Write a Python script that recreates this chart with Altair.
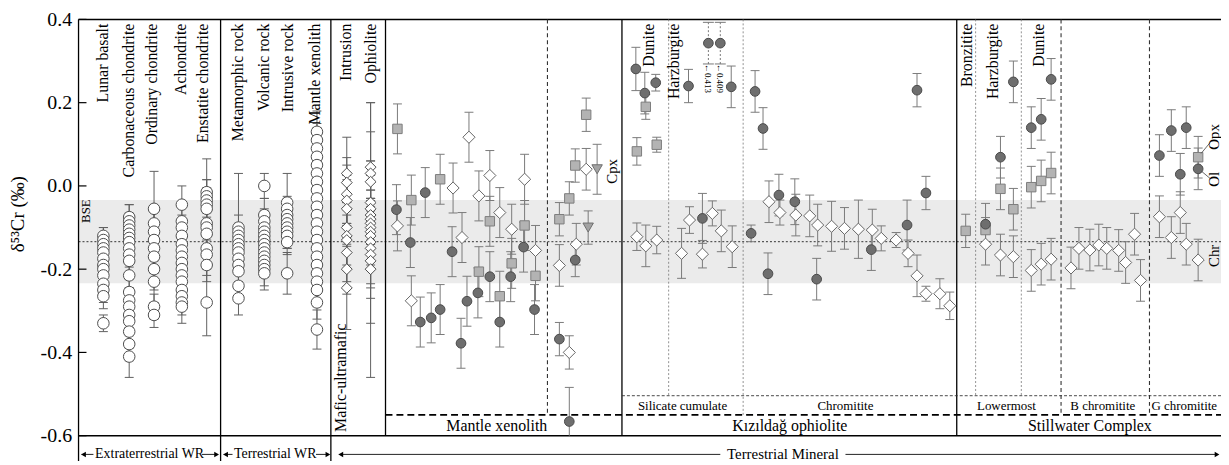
import altair as alt
import pandas as pd

FONT = "Liberation Serif"

# ---------------- reference values ----------------
Y_TICKS = [-0.6, -0.4, -0.2, 0.0, 0.2, 0.4]
BSE_MEAN = -0.134
BSE_2SD = 0.100

# ---------------- whole-rock data (open circles / open diamonds) ----------------
wr_circle_names = ["Lunar basalt", "Carbonaceous chondrite", "Ordinary chondrite", "Achondrite",
                   "Enstatite chondrite", "Metamorphic rock", "Volcanic rock", "Intrusive rock",
                   "Mantle xenolith"]
wr_circle_pos = [2.5, 5.1, 7.6, 10.4, 12.9, 16.1, 18.7, 21.0, 24.0]

lunar_basalt = [-0.12, -0.13, -0.14, -0.15, -0.16, -0.175, -0.19, -0.20, -0.215, -0.235, -0.25, -0.265, -0.33]
lunar_basalt_err = [0.02, 0.03, 0.02, 0.03, 0.02, 0.03, 0.02, 0.03, 0.02, 0.03, 0.03, 0.03, 0.02]
carbonaceous = [-0.075, -0.085, -0.095, -0.105, -0.115, -0.125, -0.135, -0.15, -0.165, -0.18, -0.215,
                -0.255, -0.275, -0.29, -0.31, -0.325, -0.35, -0.38, -0.41]
carbonaceous_err = [0.03, 0.04, 0.03, 0.03, 0.04, 0.03, 0.04, 0.03, 0.03, 0.04, 0.03, 0.03, 0.03, 0.04,
                    0.03, 0.03, 0.04, 0.04, 0.05]
ordinary = [-0.055, -0.09, -0.11, -0.13, -0.15, -0.17, -0.2, -0.23, -0.29, -0.31]
ordinary_err = [0.09, 0.04, 0.05, 0.04, 0.05, 0.04, 0.05, 0.05, 0.03, 0.03]
achondrite = [-0.045, -0.085, -0.1, -0.12, -0.14, -0.155, -0.17, -0.185, -0.2, -0.215, -0.23, -0.25,
              -0.265, -0.28, -0.29]
achondrite_err = [0.045, 0.04, 0.03, 0.04, 0.03, 0.04, 0.03, 0.04, 0.03, 0.04, 0.03, 0.02, 0.03, 0.03, 0.04]
enstatite = [-0.015, -0.025, -0.035, -0.045, -0.055, -0.09, -0.1, -0.115, -0.15, -0.165, -0.19, -0.28]
enstatite_err = [0.08, 0.04, 0.05, 0.04, 0.05, 0.04, 0.05, 0.04, 0.04, 0.05, 0.04, 0.08]
metamorphic = [-0.1, -0.11, -0.12, -0.13, -0.14, -0.15, -0.16, -0.175, -0.19, -0.205, -0.24, -0.27]
metamorphic_err = [0.13, 0.04, 0.03, 0.04, 0.03, 0.04, 0.03, 0.03, 0.04, 0.03, 0.03, 0.04]
volcanic = [0.0, -0.07, -0.085, -0.1, -0.11, -0.12, -0.13, -0.14, -0.15, -0.16, -0.17, -0.18, -0.19, -0.2, -0.21]
volcanic_err = [0.03, 0.04, 0.03, 0.04, 0.03, 0.04, 0.03, 0.04, 0.03, 0.04, 0.03, 0.04, 0.03, 0.04, 0.04]
intrusive = [-0.04, -0.055, -0.07, -0.08, -0.09, -0.1, -0.11, -0.12, -0.135, -0.21]
intrusive_err = [0.07, 0.03, 0.04, 0.03, 0.04, 0.03, 0.04, 0.03, 0.03, 0.05]
mantle_xenolith_wr = [0.13, 0.11, 0.09, 0.07, 0.05, 0.03, 0.01, -0.01, -0.03, -0.05, -0.07, -0.09, -0.11,
                      -0.13, -0.15, -0.17, -0.19, -0.21, -0.23, -0.25, -0.28, -0.345]
mantle_xenolith_wr_err = [0.05, 0.04, 0.05, 0.04, 0.05, 0.04, 0.05, 0.04, 0.05, 0.04, 0.05, 0.04, 0.05,
                          0.04, 0.05, 0.04, 0.05, 0.04, 0.05, 0.04, 0.04, 0.047]

wr_diamond_names = ["Intrusion", "Ophiolite"]
wr_diamond_pos = [27.0, 29.4]
intrusion = [0.03, 0.008, -0.02, -0.035, -0.055, -0.1, -0.12, -0.13, -0.16, -0.2, -0.245]
intrusion_err = [0.087, 0.06, 0.07, 0.06, 0.07, 0.06, 0.08, 0.06, 0.07, 0.06, 0.1]
ophiolite = [0.045, 0.03, 0.01, -0.04, -0.055, -0.07, -0.08, -0.09, -0.1, -0.11, -0.12, -0.135, -0.15,
             -0.165, -0.18, -0.2]
ophiolite_err = [0.155, 0.17, 0.12, 0.1, 0.08, 0.06, 0.07, 0.06, 0.05, 0.08, 0.06, 0.1, 0.12, 0.08, 0.15, 0.26]

# ---------------- mineral data: (sample position, d53Cr, 2SD) ----------------
# olivine (dark filled circles)
ol_data = [
    (32.0, -0.057, 0.06), (33.4, -0.136, 0.06), (34.4, -0.327, 0.06), (34.9, -0.016, 0.06),
    (35.5, -0.317, 0.06), (36.4, -0.297, 0.06), (37.6, -0.158, 0.06), (38.5, -0.378, 0.06),
    (39.1, -0.277, 0.06), (40.2, -0.257, 0.06), (41.4, -0.218, 0.06), (42.4, -0.327, 0.06),
    (43.5, -0.218, 0.06), (44.8, -0.147, 0.06), (45.9, -0.297, 0.06), (48.4, -0.368, 0.04),
    (49.4, -0.566, 0.082), (50.0, -0.178, 0.04),
    (56.1, 0.281, 0.052), (57.0, 0.223, 0.05), (58.1, 0.248, 0.02), (61.4, 0.240, 0.04),
    (62.8, -0.078, 0.06), (65.7, 0.238, 0.05), (67.7, -0.114, 0.02), (68.1, 0.227, 0.05),
    (68.9, 0.138, 0.05), (69.4, -0.211, 0.05), (70.5, -0.022, 0.05), (72.1, -0.038, 0.055),
    (74.3, -0.224, 0.05), (79.8, -0.153, 0.05), (83.4, -0.094, 0.06), (84.4, 0.230, 0.04),
    (85.3, -0.017, 0.04),
    (91.3, -0.092, 0.05), (92.8, 0.069, 0.05), (94.1, 0.250, 0.05), (95.9, 0.140, 0.05),
    (96.9, 0.160, 0.05), (97.9, 0.256, 0.05), (108.8, 0.073, 0.05), (110.0, 0.133, 0.05),
    (110.9, 0.028, 0.05), (111.5, 0.140, 0.05), (112.7, 0.041, 0.05),
]
# olivine beyond the axis top: plotted position, true value
ol_offscale_pos = [63.4, 64.6]
ol_offscale_true = ["0.413", "0.409"]
OFFSCALE_Y = 0.343
OFFSCALE_ERR = 0.05

# orthopyroxene (light grey squares)
opx_data = [
    (32.1, 0.137, 0.06), (33.5, -0.034, 0.06), (36.4, 0.016, 0.06), (40.3, -0.206, 0.06),
    (41.4, -0.085, 0.06), (42.4, -0.265, 0.06), (43.6, -0.186, 0.06), (44.9, -0.095, 0.06),
    (46.0, -0.216, 0.06), (48.4, -0.080, 0.04), (49.4, -0.030, 0.04), (50.0, 0.049, 0.04),
    (51.1, 0.171, 0.04),
    (56.2, 0.083, 0.033), (57.1, 0.190, 0.03), (58.2, 0.099, 0.018),
    (89.3, -0.108, 0.04), (91.3, -0.106, 0.03), (92.8, -0.007, 0.05), (94.1, -0.056, 0.05),
    (95.9, -0.003, 0.05), (96.9, 0.012, 0.05), (97.9, 0.031, 0.05), (112.7, 0.069, 0.05),
]
# chromite / spinel (open diamonds)
chr_data = [
    (32.1, -0.096, 0.06), (33.5, -0.276, 0.06), (37.7, -0.005, 0.06), (38.6, -0.124, 0.06),
    (39.3, 0.117, 0.06), (40.3, -0.024, 0.06), (41.4, 0.025, 0.06), (42.4, -0.064, 0.06),
    (43.6, -0.104, 0.06), (44.9, 0.016, 0.06), (46.0, -0.155, 0.06), (48.4, -0.191, 0.05),
    (49.4, -0.400, 0.04), (50.1, -0.140, 0.05), (51.1, 0.040, 0.05),
    (56.2, -0.122, 0.033), (57.1, -0.144, 0.05), (58.2, -0.130, 0.033), (60.7, -0.162, 0.06),
    (61.5, -0.082, 0.032), (62.8, -0.164, 0.033), (63.8, -0.066, 0.03), (64.7, -0.108, 0.05),
    (65.8, -0.146, 0.05), (69.5, -0.038, 0.05), (70.6, -0.064, 0.03), (72.2, -0.070, 0.05),
    (73.6, -0.072, 0.05), (74.4, -0.094, 0.05), (75.8, -0.097, 0.06), (77.1, -0.102, 0.05),
    (78.5, -0.104, 0.07), (79.9, -0.106, 0.05), (80.8, -0.126, 0.03), (82.3, -0.130, 0.018),
    (83.5, -0.162, 0.032), (84.4, -0.216, 0.05), (85.3, -0.259, 0.018), (86.7, -0.259, 0.036),
    (87.7, -0.288, 0.033),
    (91.3, -0.140, 0.05), (92.8, -0.166, 0.05), (94.1, -0.170, 0.05), (95.9, -0.203, 0.05),
    (96.9, -0.188, 0.05), (97.9, -0.176, 0.05), (99.9, -0.197, 0.05), (100.7, -0.150, 0.05),
    (101.8, -0.154, 0.05), (102.7, -0.142, 0.05), (103.5, -0.150, 0.05), (104.7, -0.155, 0.05),
    (105.4, -0.184, 0.05), (106.3, -0.116, 0.05), (106.9, -0.227, 0.05), (108.8, -0.074, 0.05),
    (110.0, -0.124, 0.05), (110.9, -0.064, 0.05), (111.5, -0.140, 0.05), (112.7, -0.178, 0.05),
]
# clinopyroxene (grey down triangles)
cpx_data = [(52.2, 0.040, 0.06), (51.3, -0.100, 0.04)]

# ---------------- section layout on the sample axis ----------------
X_MAX = 115
solid_v = [(0, -0.67), (14.3, -0.67), (25.4, -0.67), (30.9, -0.6), (54.7, -0.6), (88.4, -0.6)]
dashed_v = [(47.2, -0.55), (98.9, -0.55), (107.8, -0.55)]
dotted_v = [(59.4, -0.504), (66.9, -0.55), (90.3, -0.504), (94.9, -0.504)]
GROUP_LINE_Y = -0.55
SUBGROUP_LINE_Y = -0.504
BOTTOM_ROW_Y = -0.643

top_labels = wr_circle_names + wr_diamond_names + ["Dunite", "Harzburgite", "Bronzitite", "Harzburgite", "Dunite"]
top_label_pos = [2.5, 5.1, 7.4, 10.3, 12.5, 16.1, 18.7, 21.1, 23.8, 26.9, 29.4, 57.4, 59.9, 89.4, 92.1, 96.7]

group_labels = ["Mantle xenolith", "Kızıldağ ophiolite", "Stillwater Complex"]
group_label_pos = [42.1, 71.6, 101.8]
subgroup_labels = ["Silicate cumulate", "Chromitite", "Lowermost", "B chromitite", "G chromitite"]
subgroup_label_pos = [60.8, 77.2, 93.4, 103.1, 111.3]
phase_labels = ["Cpx", "Opx", "Ol", "Chr"]
phase_label_pos = [53.7, 114.3, 114.3, 114.3]
phase_label_y = [0.035, 0.118, 0.016, -0.168]

bottom_labels = ["Extraterrestrial WR", "Terrestrial WR", "Terrestrial Mineral"]
bottom_label_pos = [14.9 / 2 - 0.3, 19.8, 70.9]
# arrow shafts (x0, x1) and arrow heads (x, direction) for the bottom row
arrow_shafts = [(0.3, 1.5), (12.4, 14.0), (14.6, 15.5), (23.9, 25.2), (26.2, 64.6), (77.2, 114.6)]
arrow_heads = [(0.5, "triangle-left"), (13.9, "triangle-right"), (14.8, "triangle-left"),
               (25.1, "triangle-right"), (26.4, "triangle-left"), (114.6, "triangle-right")]

# ---------------- build tables ----------------
def rows_from(groups, pos, vals_list, errs_list):
    out = []
    for g, p, vals, errs in zip(groups, pos, vals_list, errs_list):
        for v, e in zip(vals, errs):
            out.append({"x": p, "y": v, "err": e, "group": g})
    return pd.DataFrame(out)

wr_c = rows_from(wr_circle_names, wr_circle_pos,
                 [lunar_basalt, carbonaceous, ordinary, achondrite, enstatite, metamorphic, volcanic,
                  intrusive, mantle_xenolith_wr],
                 [lunar_basalt_err, carbonaceous_err, ordinary_err, achondrite_err, enstatite_err,
                  metamorphic_err, volcanic_err, intrusive_err, mantle_xenolith_wr_err])
wr_d = rows_from(wr_diamond_names, wr_diamond_pos, [intrusion, ophiolite], [intrusion_err, ophiolite_err])

def tdf(data):
    return pd.DataFrame(data, columns=["x", "y", "err"])

ol = tdf(ol_data)
opx = tdf(opx_data)
chrm = tdf(chr_data)
cpx = tdf(cpx_data)

def err_tables(df):
    d = df.copy()
    d["lo_raw"] = d["y"] - d["err"]
    d["lo"] = d["lo_raw"].clip(lower=-0.6)
    d["hi"] = d["y"] + d["err"]
    keep = d["lo_raw"] >= -0.6
    caps = pd.concat([
        pd.DataFrame({"x": d["x"], "y": d["hi"]}),
        pd.DataFrame({"x": d["x"][keep], "y": d["lo"][keep]}),
    ])
    return d, caps

XS = alt.Scale(domain=[0, X_MAX], nice=False, zero=False)
YS = alt.Scale(domain=[-0.6, 0.4], nice=False, zero=False)
YAX = alt.Axis(values=Y_TICKS,
               labelExpr="datum.value < 0 ? '-' + format(-datum.value, '.1f') : format(datum.value, '.1f')",
               labelFont=FONT, labelFontSize=20, labelColor="black", ticks=False, domain=False,
               grid=False, title=None, labelPadding=7)

def X(f):
    return alt.X(f, type="quantitative", scale=XS, axis=None)

def Y(f):
    return alt.Y(f, type="quantitative", scale=YS, axis=YAX)

layers = []

# BSE band and line
band = pd.DataFrame({"x0": [0], "x1": [X_MAX], "lo": [BSE_MEAN - BSE_2SD], "hi": [BSE_MEAN + BSE_2SD],
                     "m": [BSE_MEAN]})
layers.append(alt.Chart(band).mark_rect(color="#ebebeb").encode(
    x=X("x0"), x2=alt.X2("x1"), y=Y("lo"), y2=alt.Y2("hi")))
layers.append(alt.Chart(band).mark_rule(color="#333333", strokeDash=[2, 2], strokeWidth=1).encode(
    x=X("x0"), x2=alt.X2("x1"), y=Y("m")))

# frame lines
hz = pd.DataFrame({"x0": [0, 0], "x1": [X_MAX, X_MAX], "y": [0.4, -0.6]})
layers.append(alt.Chart(hz).mark_rule(color="black", strokeWidth=1.5).encode(
    x=X("x0"), x2=alt.X2("x1"), y=Y("y")))
sv = pd.DataFrame({"x": [a for a, _ in solid_v], "y0": [0.4] * len(solid_v), "y1": [b for _, b in solid_v]})
layers.append(alt.Chart(sv).mark_rule(color="black", strokeWidth=1.3).encode(
    x=X("x"), y=Y("y0"), y2=alt.Y2("y1")))
dv = pd.DataFrame({"x": [a for a, _ in dashed_v], "y0": [0.4] * len(dashed_v), "y1": [b for _, b in dashed_v]})
layers.append(alt.Chart(dv).mark_rule(color="#333333", strokeWidth=1.1, strokeDash=[4, 3]).encode(
    x=X("x"), y=Y("y0"), y2=alt.Y2("y1")))
tv = pd.DataFrame({"x": [a for a, _ in dotted_v], "y0": [0.4] * len(dotted_v), "y1": [b for _, b in dotted_v]})
layers.append(alt.Chart(tv).mark_rule(color="#777777", strokeWidth=0.8, strokeDash=[2, 2]).encode(
    x=X("x"), y=Y("y0"), y2=alt.Y2("y1")))
gh = pd.DataFrame({"x0": [30.9], "x1": [X_MAX], "y": [GROUP_LINE_Y]})
layers.append(alt.Chart(gh).mark_rule(color="black", strokeWidth=1.6, strokeDash=[7, 4]).encode(
    x=X("x0"), x2=alt.X2("x1"), y=Y("y")))
sh = pd.DataFrame({"x0": [54.7], "x1": [X_MAX], "y": [SUBGROUP_LINE_Y]})
layers.append(alt.Chart(sh).mark_rule(color="#333333", strokeWidth=0.9, strokeDash=[3, 2]).encode(
    x=X("x0"), x2=alt.X2("x1"), y=Y("y")))
# inward y ticks
tk = pd.DataFrame({"x0": [0] * len(Y_TICKS), "x1": [0.8] * len(Y_TICKS), "y": Y_TICKS})
layers.append(alt.Chart(tk).mark_rule(color="black", strokeWidth=1.2).encode(
    x=X("x0"), x2=alt.X2("x1"), y=Y("y")))

# error bars
for df, col in [(wr_c, "#606060"), (wr_d, "#606060"), (ol, "#7a7a7a"), (opx, "#7a7a7a"),
                (chrm, "#7a7a7a"), (cpx, "#7a7a7a")]:
    d, caps = err_tables(df)
    layers.append(alt.Chart(d).mark_rule(color=col, strokeWidth=1).encode(
        x=X("x"), y=Y("lo"), y2=alt.Y2("hi")))
    layers.append(alt.Chart(caps).mark_tick(color=col, orient="horizontal", size=9, thickness=1,
                                            opacity=1).encode(x=X("x"), y=Y("y")))

# off-scale olivine (dotted error bars)
off = pd.DataFrame({"x": ol_offscale_pos, "y": [OFFSCALE_Y] * 2,
                    "lo": [OFFSCALE_Y - OFFSCALE_ERR] * 2, "hi": [OFFSCALE_Y + OFFSCALE_ERR] * 2,
                    "label": ["←" + t for t in ol_offscale_true]})
layers.append(alt.Chart(off).mark_rule(color="#777777", strokeWidth=1, strokeDash=[2, 2]).encode(
    x=X("x"), y=Y("lo"), y2=alt.Y2("hi")))
for c in ["lo", "hi"]:
    layers.append(alt.Chart(off).mark_tick(color="#777777", orient="horizontal", size=11, thickness=1,
                                           opacity=1, strokeDash=[2, 2]).encode(x=X("x"), y=Y(c)))

# points
def pts(df, shape, size, fill, stroke):
    return alt.Chart(df).mark_point(shape=shape, size=size, filled=True, fill=fill, stroke=stroke,
                                    strokeWidth=1, opacity=1).encode(x=X("x"), y=Y("y"))

layers.append(pts(wr_c, "circle", 135, "white", "#4d4d4d"))
layers.append(pts(wr_d, "diamond", 120, "white", "#4d4d4d"))
layers.append(pts(opx, "square", 90, "#b3b3b3", "#7d7d7d"))
layers.append(pts(chrm, "diamond", 150, "white", "#666666"))
layers.append(pts(cpx, "triangle-down", 110, "#a3a3a3", "#6e6e6e"))
layers.append(pts(ol, "circle", 95, "#6e6e6e", "#4a4a4a"))
layers.append(pts(off, "circle", 95, "#6e6e6e", "#4a4a4a"))

# leader lines for phase labels
ld = pd.DataFrame({"x0": [113.0, 113.0], "y0": [0.078, 0.036], "x1": [113.9, 113.9], "y1": [0.104, 0.018]})
layers.append(alt.Chart(ld).mark_rule(color="#555555", strokeWidth=0.9).encode(
    x=X("x0"), y=Y("y0"), x2=alt.X2("x1"), y2=alt.Y2("y1")))

# ---------------- texts ----------------
def txt(df, **kw):
    return alt.Chart(df).mark_text(font=FONT, color="black", **kw).encode(
        x=X("x"), y=Y("y"), text="text:N")

layers.append(txt(pd.DataFrame({"x": top_label_pos, "y": [0.39] * len(top_labels), "text": top_labels}),
                  angle=270, align="right", baseline="middle", fontSize=16))
layers.append(txt(pd.DataFrame({"x": [0.8], "y": [-0.089], "text": ["BSE"]}),
                  angle=270, align="left", baseline="middle", fontSize=13))
layers.append(txt(pd.DataFrame({"x": [26.4], "y": [-0.591], "text": ["Mafic-ultramafic"]}),
                  angle=270, align="left", baseline="middle", fontSize=16))
layers.append(txt(pd.DataFrame({"x": phase_label_pos, "y": phase_label_y, "text": phase_labels}),
                  angle=270, align="center", baseline="middle", fontSize=15))
layers.append(alt.Chart(off).mark_text(font=FONT, color="black", angle=90, align="left", baseline="middle",
                                       fontSize=9).encode(x=X("x"), y=Y("lo"), text="label:N"))
layers.append(txt(pd.DataFrame({"x": group_label_pos, "y": [-0.576] * 3, "text": group_labels}),
                  align="center", baseline="middle", fontSize=16))
layers.append(txt(pd.DataFrame({"x": subgroup_label_pos, "y": [-0.528] * 5, "text": subgroup_labels}),
                  align="center", baseline="middle", fontSize=13))
layers.append(txt(pd.DataFrame({"x": bottom_label_pos[:2], "y": [BOTTOM_ROW_Y] * 2, "text": bottom_labels[:2]}),
                  align="center", baseline="middle", fontSize=14))
layers.append(txt(pd.DataFrame({"x": bottom_label_pos[2:], "y": [BOTTOM_ROW_Y], "text": bottom_labels[2:]}),
                  align="center", baseline="middle", fontSize=15))
tm = pd.DataFrame({"x0": [a for a, _ in arrow_shafts], "x1": [b for _, b in arrow_shafts],
                   "y": [BOTTOM_ROW_Y - 0.002] * len(arrow_shafts)})
layers.append(alt.Chart(tm).mark_rule(color="#222222", strokeWidth=1).encode(
    x=X("x0"), x2=alt.X2("x1"), y=Y("y")))
ah = pd.DataFrame({"x": [a for a, _ in arrow_heads], "s": [b for _, b in arrow_heads],
                   "y": [BOTTOM_ROW_Y - 0.002] * len(arrow_heads)})
for s in ["triangle-left", "triangle-right"]:
    layers.append(alt.Chart(ah[ah.s == s]).mark_point(shape=s, size=30, filled=True, color="black",
                                                      opacity=1).encode(x=X("x"), y=Y("y")))
# y-axis title
layers.append(txt(pd.DataFrame({"x": [-6.05], "y": [-0.068], "text": ["δ⁵³Cr (‰)"]}),
                  angle=270, align="center", baseline="middle", fontSize=19))

chart = alt.layer(*layers).properties(
    width=1150, height=419,
    autosize=alt.AutoSizeParams(type="none"),
    padding={"left": 71, "top": 10, "right": 0, "bottom": 24},
).configure_view(stroke=None)

chart.save("out.html", embed_options={"renderer": "svg", "actions": False})
